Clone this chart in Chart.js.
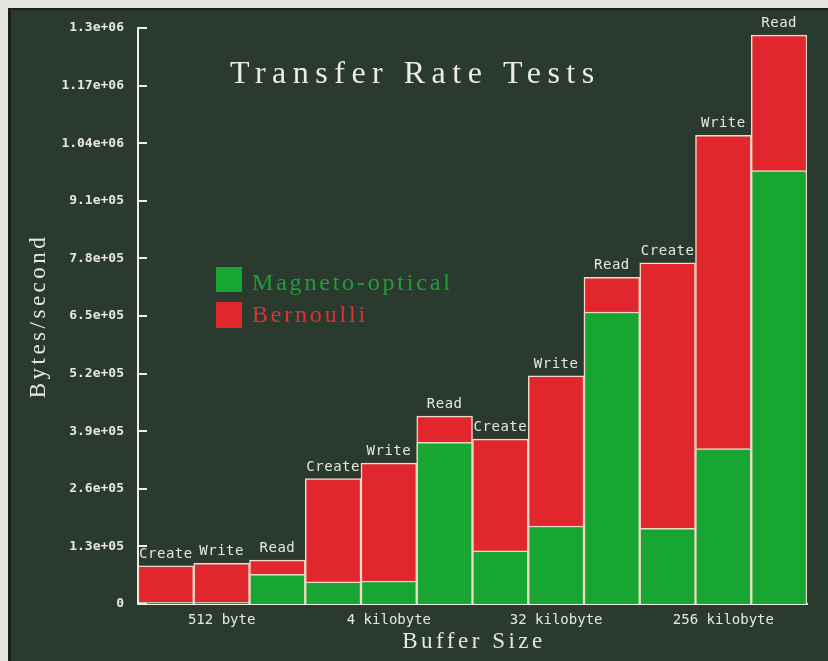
<!DOCTYPE html>
<html>
<head>
<meta charset="utf-8">
<script src="https://cdn.jsdelivr.net/npm/chart.js@4/dist/chart.umd.min.js"></script>
<style>
    html, body { margin: 0; padding: 0; background: #e3e3df; }
    #wrap { width: 828px; height: 661px; position: relative; }
</style>
</head>
<body>
<div id="wrap"><canvas id="myChart"></canvas></div>
<script>
// buffer sizes, one group of three tests each
const sizes = ["512 byte", "4 kilobyte", "32 kilobyte", "256 kilobyte"];
const tests = ["Create", "Write", "Read"];
// bytes/second per test, in order Create/Write/Read for each size
const magnetoOptical = [4000, 4000, 67000, 50000, 52000, 365000, 120000, 176000, 659000, 171000, 351000, 978000];
const bernoulli = [86000, 92000, 99000, 283000, 318000, 424000, 372000, 515000, 737000, 770000, 1058000, 1284000];
const yTicks = [0, 130000, 260000, 390000, 520000, 650000, 780000, 910000, 1040000, 1170000, 1300000];

const bg = "#2b3a2e";
const green = "#17a632";
const red = "#e2262e";
const edge = "#f3d9c8";
const ink = "#e8e8de";

let labels = [];
sizes.forEach(s => tests.forEach(t => labels.push(s + " " + t)));

function sci(v) {
    if (v === 0) return "0";
    let s = Number(v.toPrecision(3)).toExponential();
    return s.replace(/e([+-])(\d)$/, "e$10$2");
}

function spacedText(ctx, text, x, y, spacing) {
    ctx.letterSpacing = spacing + "px";
    ctx.fillText(text, x, y);
    ctx.letterSpacing = "0px";
}

const backdrop = {
    id: "backdrop",
    beforeDraw(chart) {
        const ctx = chart.ctx;
        ctx.save();
        ctx.fillStyle = "#e3e3df";
        ctx.fillRect(0, 0, chart.width, chart.height);
        ctx.fillStyle = "#1b211d";
        ctx.fillRect(8, 8, chart.width, chart.height);
        ctx.fillStyle = bg;
        ctx.fillRect(11, 10, chart.width, chart.height);
        ctx.restore();
    }
};

const decorations = {
    id: "decorations",
    afterDatasetsDraw(chart) {
        const ctx = chart.ctx;
        const y = chart.scales.y;
        const left = chart.chartArea.left;
        ctx.save();

        // tick marks point into the plot
        ctx.strokeStyle = "#f0f0ea";
        ctx.lineWidth = 2;
        y.ticks.forEach(t => {
            const py = Math.round(y.getPixelForValue(t.value));
            ctx.beginPath();
            ctx.moveTo(left, py);
            ctx.lineTo(left + 9, py);
            ctx.stroke();
        });

        // test name above each bar
        ctx.fillStyle = ink;
        ctx.font = "14px 'DejaVu Sans Mono'";
        ctx.textAlign = "center";
        ctx.textBaseline = "alphabetic";
        chart.getDatasetMeta(1).data.forEach((bar, i) => {
            spacedText(ctx, tests[i % 3], bar.x, bar.y - 8, 0.5);
        });

        // title
        ctx.textAlign = "left";
        ctx.fillStyle = "#eeede4";
        ctx.font = "32px 'Liberation Serif'";
        spacedText(ctx, "Transfer Rate Tests", 230, 83, 6.5);

        // legend
        ctx.fillStyle = green;
        ctx.fillRect(216, 267, 26, 25);
        ctx.fillStyle = red;
        ctx.fillRect(216, 302, 26, 26);
        ctx.font = "24px 'Liberation Serif'";
        ctx.fillStyle = "#1f9f39";
        spacedText(ctx, "Magneto-optical", 252, 290, 2.8);
        ctx.fillStyle = "#dd3230";
        spacedText(ctx, "Bernoulli", 252, 322, 2.8);

        // axis titles
        ctx.fillStyle = ink;
        ctx.font = "23px 'Liberation Serif'";
        ctx.textAlign = "center";
        spacedText(ctx, "Buffer Size", 474, 648, 3.5);
        ctx.translate(45, 316);
        ctx.rotate(-Math.PI / 2);
        spacedText(ctx, "Bytes/second", 0, 0, 3.5);
        ctx.restore();
    }
};

const ctx = document.getElementById("myChart");
const config = {
    type: "bar",
    data: {
        labels: labels,
        datasets: [
            {
                label: "Magneto-optical",
                data: magnetoOptical,
                backgroundColor: green,
                borderColor: edge,
                borderWidth: 1.5,
                order: 0,
            },
            {
                label: "Bernoulli",
                data: bernoulli,
                backgroundColor: red,
                borderColor: edge,
                borderWidth: 1.5,
                order: 1,
            }
        ]
    },
    options: {
        responsive: true,
        maintainAspectRatio: false,
        animation: false,
        layout: { padding: { top: 28, right: 21, left: 0, bottom: 0 } },
        datasets: { bar: { categoryPercentage: 1, barPercentage: 1 } },
        plugins: {
            legend: { display: false },
            title: { display: false },
            tooltip: { enabled: false },
        },
        scales: {
            x: {
                stacked: true,
                grid: { display: false, drawTicks: false },
                border: { display: true, color: "#f0f0ea", width: 2 },
                ticks: {
                    autoSkip: false,
                    maxRotation: 0,
                    padding: 8,
                    color: ink,
                    font: { family: "'DejaVu Sans Mono'", size: 14 },
                    callback: (v, i) => i % 3 === 1 ? sizes[(i - 1) / 3] : "",
                },
                afterFit: (s) => { s.height = 57; },
            },
            y: {
                stacked: false,
                min: 0,
                max: 1300000,
                afterBuildTicks: (s) => { s.ticks = yTicks.map(v => ({ value: v })); },
                grid: { display: false, drawTicks: false },
                border: { display: true, color: "#f0f0ea", width: 2 },
                ticks: {
                    padding: 14,
                    color: ink,
                    font: { family: "'DejaVu Sans Mono'", size: 13, weight: "bold" },
                    callback: (v) => sci(v),
                },
                afterFit: (s) => { s.width = 138; },
            }
        }
    },
    plugins: [backdrop, decorations],
};
const chart = new Chart(ctx, config);
</script>
</body>
</html>
